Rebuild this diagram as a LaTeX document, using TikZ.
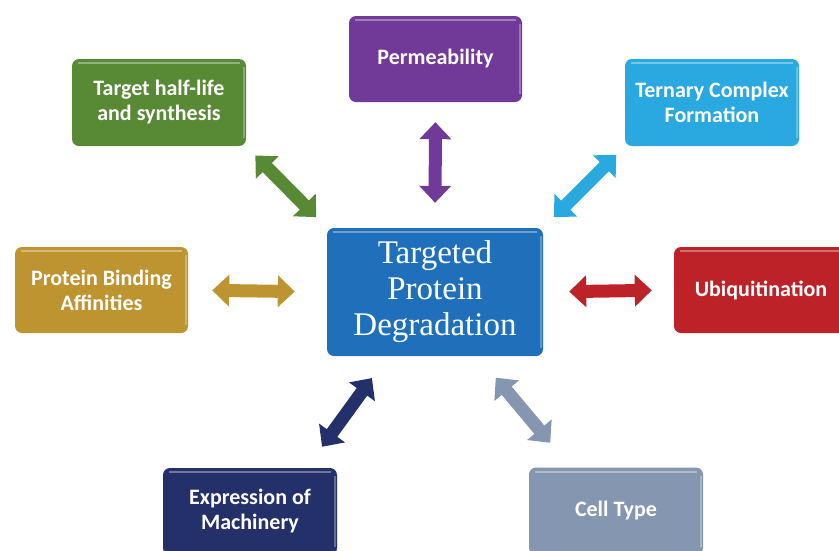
\documentclass[tikz,border=0pt]{standalone}
\usepackage{fontspec}
\setmainfont{Liberation Serif}
\setsansfont{Carlito}
\usetikzlibrary{arrows.meta}

% Colours of the boxes
\definecolor{hubblue}{RGB}{31,111,186}
\definecolor{permpurple}{RGB}{113,57,152}
\definecolor{lifegreen}{RGB}{88,137,53}
\definecolor{terncyan}{RGB}{42,168,224}
\definecolor{bindgold}{RGB}{190,148,48}
\definecolor{ubired}{RGB}{188,34,40}
\definecolor{machnavy}{RGB}{35,48,106}
\definecolor{cellgrey}{RGB}{133,151,176}

\tikzset{
  factor/.style={rounded corners=7pt, fill=#1, minimum width=174pt, minimum height=87pt,
    inner sep=0pt, align=center, text=white,
    font=\sffamily\bfseries\fontsize{22}{25}\selectfont,
    path picture={
      \draw[white, opacity=.35, line width=2pt]
        ([xshift=6pt,yshift=-4pt]path picture bounding box.north west) --
        ([xshift=-6pt,yshift=-4pt]path picture bounding box.north east);
      \draw[white, opacity=.3, line width=1.5pt]
        ([xshift=-2pt,yshift=-8pt]path picture bounding box.north east) --
        ([xshift=-2pt,yshift=8pt]path picture bounding box.south east);
    }},
  hub/.style={factor=hubblue, minimum width=216pt, minimum height=128pt,
    font=\fontsize{33}{36}\selectfont},
  dblarrow/.style={draw=#1, line width=13pt,
    {Triangle[width=31pt,length=17pt]}-{Triangle[width=31pt,length=17pt]}},
}

\begin{document}
\begin{tikzpicture}[x=1pt, y=-1pt]
\useasboundingbox (0,0) rectangle (839,550);

% Centre box
\node[hub] (tpd) at (435,292) {Targeted\\Protein\\Degradation};

% Factor boxes round it
\node[factor=permpurple, minimum width=173pt, minimum height=86pt] (perm) at (435.5,59) {Permeability};
\node[factor=lifegreen] (life) at (159,102.5) {Target half-life\\and synthesis};
\node[factor=terncyan] (tern) at (712,102.5) {Ternary Complex\\Formation};
\node[factor=bindgold, minimum width=173pt, minimum height=86pt] (bind) at (101.5,290) {Protein Binding\\Affinities};
\node[factor=ubired, minimum height=86pt] (ubi) at (761,290) {Ubiquitination};
\node[factor=machnavy] (mach) at (250,511.5) {Expression of\\Machinery};
\node[factor=cellgrey] (cell) at (616,511) {Cell Type};

% Double arrows between the centre and each factor
\draw[dblarrow=permpurple, shorten <=25pt, shorten >=20pt] (tpd.north) -- (perm.south);
\draw[dblarrow=lifegreen, shorten <=15pt, shorten >=13pt] (tpd.north west) -- (life.south east);
\draw[dblarrow=terncyan, shorten <=15pt, shorten >=12pt] (tpd.north east) -- (tern.south west);
\draw[dblarrow=bindgold, shorten <=32pt, shorten >=24pt] (tpd.west) -- (bind.east);
\draw[dblarrow=ubired, shorten <=26pt, shorten >=22pt] (tpd.east) -- (ubi.west);
\draw[dblarrow=machnavy, shorten <=27pt, shorten >=26pt] ([xshift=61pt]tpd.south west) -- ([xshift=144pt]mach.north west);
\draw[dblarrow=cellgrey, shorten <=28pt, shorten >=32pt] ([xshift=151pt]tpd.south west) -- ([xshift=42pt]cell.north west);
\end{tikzpicture}
\end{document}
